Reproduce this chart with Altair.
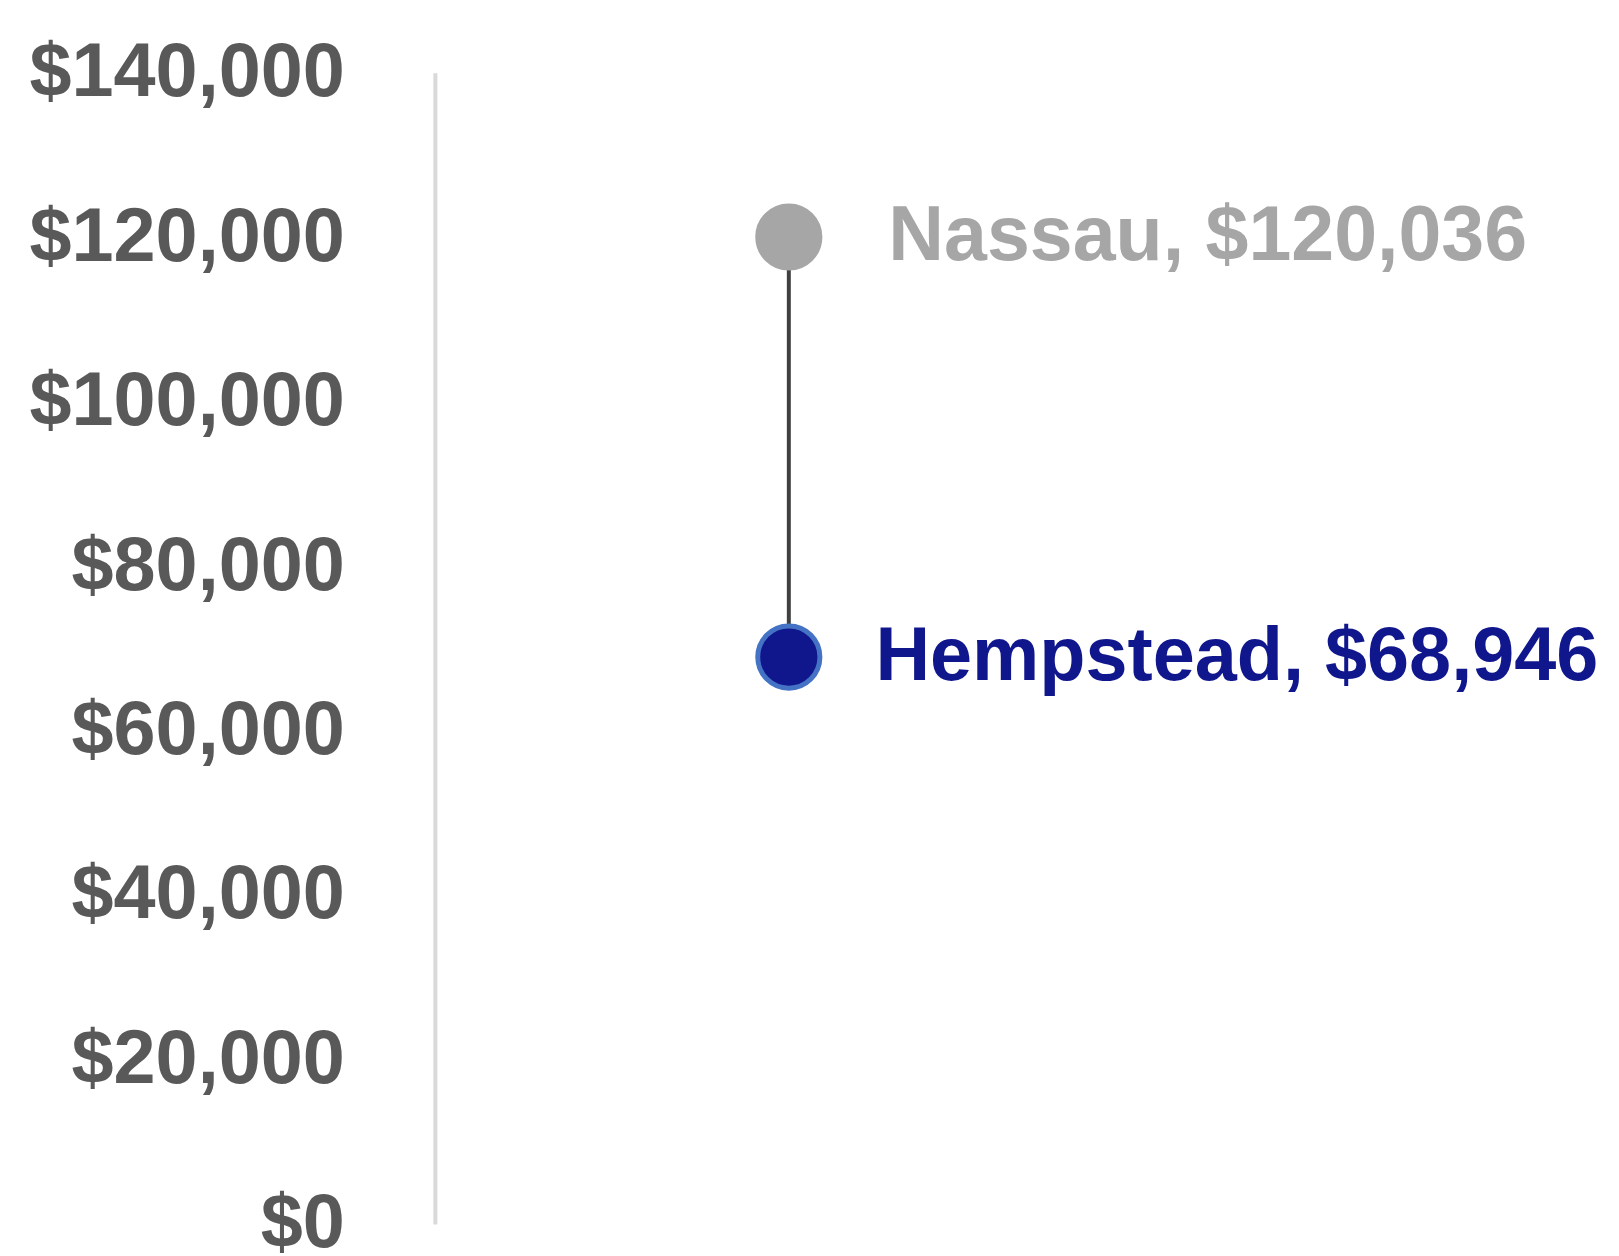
import altair as alt
import pandas as pd

places = ["Nassau", "Hempstead"]
incomes = [120036, 68946]
labels = ["Nassau, $120,036", "Hempstead, $68,946"]
xpos = [0.303, 0.303]
point_fill = ["#A6A6A6", "#10168C"]
point_stroke = ["#A6A6A6", "#4472C4"]
text_color = ["#A6A6A6", "#10168C"]
text_dx = [100, 87]
text_size = [77.5, 76]
y_ticks = [0, 20000, 40000, 60000, 80000, 100000, 120000, 140000]

df = pd.DataFrame({
    "place": places, "income": incomes, "label": labels, "x": xpos,
    "fill": point_fill, "stroke": point_stroke, "tcolor": text_color,
})

FONT = "Liberation Sans, Arial, sans-serif"

xs = alt.X("x:Q", scale=alt.Scale(domain=[0, 1]), axis=None)
ys = alt.Y("income:Q", scale=alt.Scale(domain=[0, 140000], nice=False),
           axis=alt.Axis(values=y_ticks, format="$,.0f", title=None, grid=False,
                         ticks=False, tickSize=0, labelPadding=91, labelLimit=0,
                         labelFont=FONT, labelFontSize=76, labelFontWeight="bold",
                         labelColor="#595959", domainColor="#D9D9D9", domainWidth=4,
                         labelBaseline="middle"))

base = alt.Chart(df)

line = base.mark_line(color="#404040", strokeWidth=4).encode(x=xs, y=ys)

pts = base.mark_point(filled=True, size=3900, opacity=1, strokeWidth=5).encode(
    x=xs, y=ys,
    fill=alt.Fill("fill:N", scale=None),
    stroke=alt.Stroke("stroke:N", scale=None),
)

texts = []
for i, p in enumerate(places):
    t = alt.Chart(df).transform_filter(alt.datum.place == p).mark_text(
        align="left", baseline="middle", dx=text_dx[i], font=FONT,
        fontSize=text_size[i], fontWeight="bold", color=text_color[i]
    ).encode(x=xs, y=ys, text="label:N")
    texts.append(t)

chart = alt.layer(line, pts, *texts).properties(
    width=1174, height=1157,
    autosize=alt.AutoSizeParams(type="none"),
    padding={"left": 429, "top": 62, "right": 8, "bottom": 29},
).configure_view(stroke=None)

chart.save("out.html", embed_options={"renderer": "svg", "actions": False})
